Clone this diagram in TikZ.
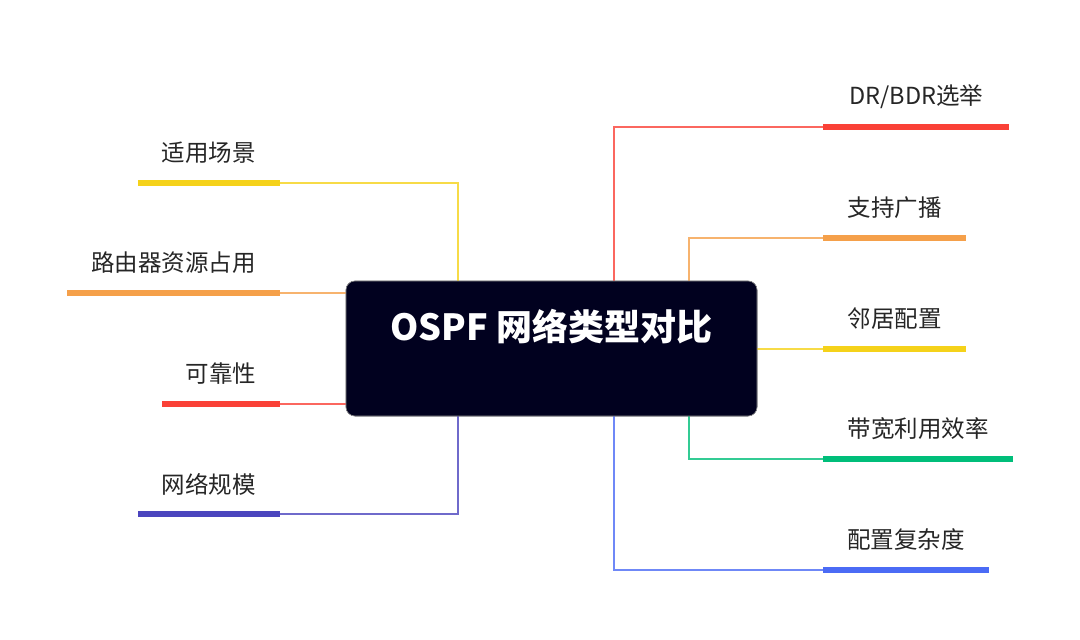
\documentclass[tikz,border=0pt]{standalone}
\usepackage{fontspec}
\newfontfamily\cjk{Noto Sans CJK SC}
\definecolor{cRed}{HTML}{FA4137}
\definecolor{cOrange}{HTML}{F5A04A}
\definecolor{cYellow}{HTML}{F5D21A}
\definecolor{cGreen}{HTML}{00BE7A}
\definecolor{cBlue}{HTML}{4B6BF5}
\definecolor{cPurple}{HTML}{4B45BE}
\definecolor{cNavy}{HTML}{01011F}
\tikzset{
  bar/.style={rectangle, inner sep=0pt, minimum height=6pt, draw=none},
  lbl/.style={font=\cjk\fontsize{23.5}{28}\selectfont, text=black!85, inner sep=0pt},
  conn/.style={line width=1.5pt, draw opacity=0.8},
  mainbox/.style={rectangle, rounded corners=9pt, fill=cNavy, draw=black!45, line width=0.6pt,
    minimum width=411pt, minimum height=135pt, inner sep=0pt},
  ttl/.style={font=\cjk\bfseries\fontsize{36}{42}\selectfont, text=white, inner sep=0pt}
}
\begin{document}
\begin{tikzpicture}[x=1pt,y=-1pt]
\useasboundingbox (0,0) rectangle (1080,640);
\fill[white] (0,0) rectangle (1080,640);
% guide coordinates
\coordinate (xL) at (458,0);
\coordinate (xR1) at (614,0);
\coordinate (xR2) at (689,0);
% left bars
\node[bar, fill=cYellow, minimum width=142pt, anchor=east] (b1) at (280,183) {};
\node[bar, fill=cOrange, minimum width=213pt, anchor=east] (b2) at (280,293) {};
\node[bar, fill=cRed, minimum width=118pt, anchor=east] (b3) at (280,404) {};
\node[bar, fill=cPurple, minimum width=142pt, anchor=east] (b4) at (280,514) {};
% right bars
\node[bar, fill=cRed, minimum width=186pt, anchor=west] (r1) at (823,127) {};
\node[bar, fill=cOrange, minimum width=143pt, anchor=west] (r2) at (823,238) {};
\node[bar, fill=cYellow, minimum width=143pt, anchor=west] (r3) at (823,349) {};
\node[bar, fill=cGreen, minimum width=190pt, anchor=west] (r4) at (823,459) {};
\node[bar, fill=cBlue, minimum width=166pt, anchor=west] (r5) at (823,570) {};
% connectors (drawn before box)
\path (551.5,348.5) node[mainbox] (box) {};
\draw[conn, cYellow] (b1.east) -| (box.north -| xL);
\draw[conn, cOrange] (b2.east) -- (b2.east -| box.west);
\draw[conn, cRed] (b3.east) -- (b3.east -| box.west);
\draw[conn, cPurple] (b4.east) -| (box.south -| xL);
\draw[conn, cRed] (r1.west) -| (box.north -| xR1);
\draw[conn, cOrange] (r2.west) -| (box.north -| xR2);
\draw[conn, cYellow] (r3.west) -- (r3.west -| box.east);
\draw[conn, cGreen] (r4.west) -| (box.south -| xR2);
\draw[conn, cBlue] (r5.west) -| (box.south -| xR1);
% central box on top
\node[mainbox] (box2) at (box.center) {};
\node[ttl] (title) at (551.5,327) {OSPF 网络类型对比};
% labels
\node[lbl] (t1) at ([yshift=30pt]b1.center) {适用场景};
\node[lbl] (t2) at ([yshift=30pt]b2.center) {路由器资源占用};
\node[lbl] (t3) at ([yshift=30pt]b3.center) {可靠性};
\node[lbl] (t4) at ([yshift=30pt]b4.center) {网络规模};
\node[lbl] (u1) at ([yshift=30pt]r1.center) {DR/BDR选举};
\node[lbl] (u2) at ([yshift=30pt]r2.center) {支持广播};
\node[lbl] (u3) at ([yshift=30pt]r3.center) {邻居配置};
\node[lbl] (u4) at ([yshift=30pt]r4.center) {带宽利用效率};
\node[lbl] (u5) at ([yshift=30pt]r5.center) {配置复杂度};
\end{tikzpicture}
\end{document}
